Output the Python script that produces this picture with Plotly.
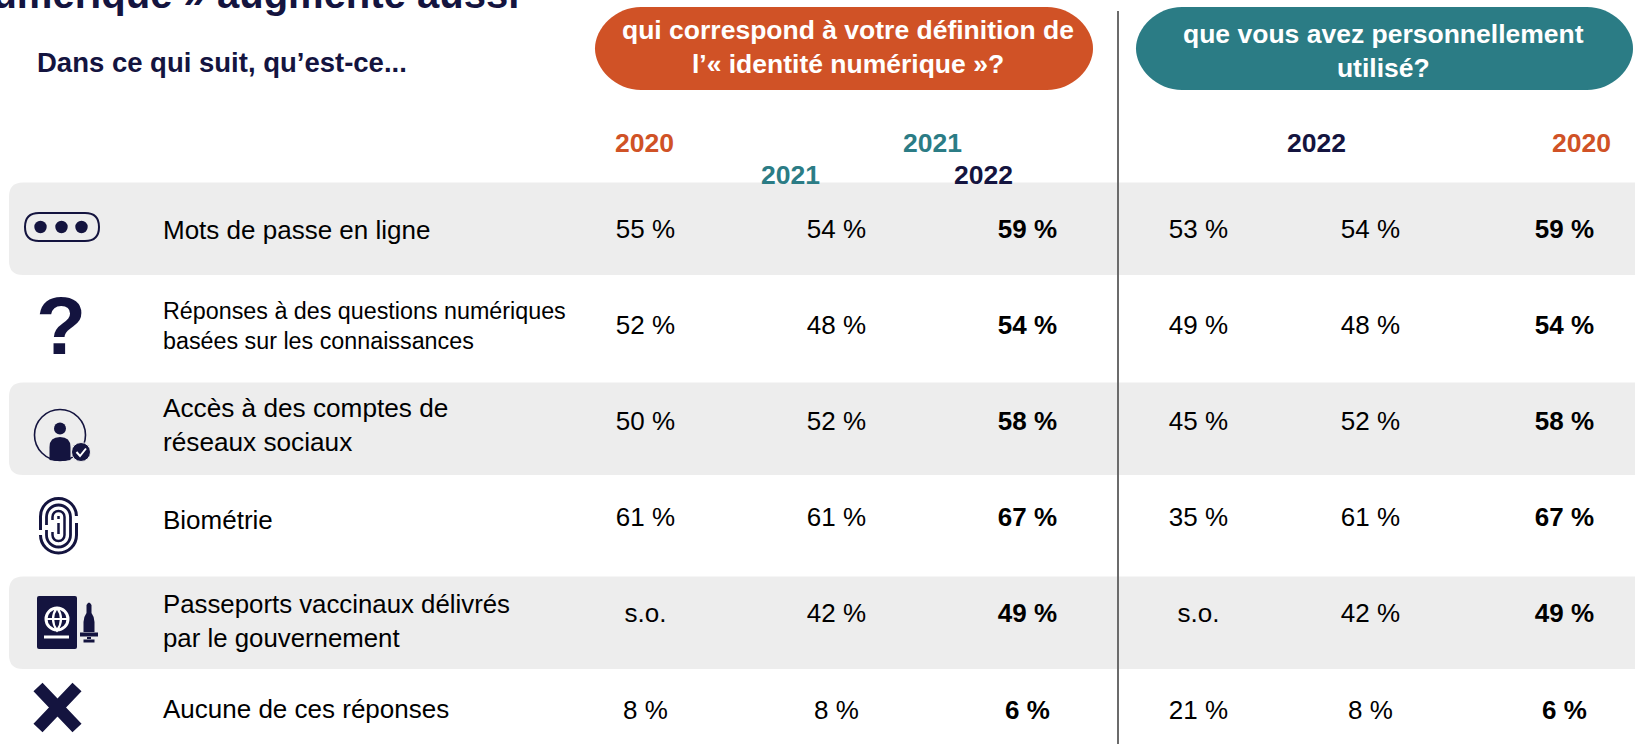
import plotly.graph_objects as go

# ---------- data ----------
row_labels = [
    "Mots de passe en ligne",
    "Réponses à des questions numériques<br>basées sur les connaissances",
    "Accès à des comptes de<br>réseaux sociaux",
    "Biométrie",
    "Passeports vaccinaux délivrés<br>par le gouvernement",
    "Aucune de ces réponses",
]
def_2020 = ["55 %", "52 %", "50 %", "61 %", "s.o.", "8 %"]
def_2021 = ["54 %", "48 %", "52 %", "61 %", "42 %", "8 %"]
def_2022 = ["59 %", "54 %", "58 %", "67 %", "49 %", "6 %"]
use_2020 = ["53 %", "49 %", "45 %", "35 %", "s.o.", "21 %"]
use_2021 = ["54 %", "48 %", "52 %", "61 %", "42 %", "8 %"]
use_2022 = ["59 %", "54 %", "58 %", "67 %", "49 %", "6 %"]
columns = [def_2020, def_2021, def_2022, use_2020, use_2021, use_2022]
title_text = "numérique » augmente aussi"
intro_text = "Dans ce qui suit, qu’est-ce..."
pill_left = "qui correspond à votre définition de<br>l’« identité numérique »?"
pill_right = "que vous avez personnellement<br>utilisé?"
year_labels = ["2020", "2021", "2021", "2022", "2022", "2020"]

# ---------- layout / style (pixels of the 1635x744 page) ----------
W, H = 1635, 744
ORANGE, TEAL, NAVY, BAND, RULE = "#D05226", "#2B7C85", "#14143F", "#EDEDED", "#6B6B6B"
FONT = "Liberation Sans"
col_x = [645.5, 836.5, 1027.5, 1198.5, 1370.5, 1564.5]
row_y = [231, 327, 423, 519, 615, 712]
label_y = [230, 326, 425, 520, 621, 709]
label_size = [26, 23.3, 26.2, 26, 25.8, 26]
year_x = [644, 790.5, 932, 983.5, 1316, 1581]
year_y = [143, 175, 143, 175, 143, 143]
year_col = [ORANGE, TEAL, TEAL, NAVY, NAVY, ORANGE]

def rrect(x0, y0, x1, y1, r, right=True):
    rr = r if right else 0
    return (f"M{x0+r},{y0} L{x1-rr},{y0} Q{x1},{y0} {x1},{y0+rr} L{x1},{y1-rr} Q{x1},{y1} {x1-rr},{y1} "
            f"L{x0+r},{y1} Q{x0},{y1} {x0},{y1-r} L{x0},{y0+r} Q{x0},{y0} {x0+r},{y0} Z")

def pill(x0, y0, x1, y1, r):
    m = 0.45 * r
    return (f"M{x0+r},{y0} L{x1-r},{y0} C{x1-m},{y0} {x1},{y0+m} {x1},{(y0+y1)/2} "
            f"C{x1},{y1-m} {x1-m},{y1} {x1-r},{y1} L{x0+r},{y1} "
            f"C{x0+m},{y1} {x0},{y1-m} {x0},{(y0+y1)/2} C{x0},{y0+m} {x0+m},{y0} {x0+r},{y0} Z")

shapes = []
def add_path(path, fill=None, line=None, width=0, layer="above"):
    shapes.append(dict(type="path", path=path, xref="x", yref="y", layer=layer,
                       fillcolor=fill if fill else "rgba(0,0,0,0)",
                       line=dict(color=line if line else "rgba(0,0,0,0)", width=width)))
def add_circle(cx, cy, r, fill=None, line=None, width=0):
    shapes.append(dict(type="circle", x0=cx-r, x1=cx+r, y0=cy-r, y1=cy+r, xref="x", yref="y", layer="above",
                       fillcolor=fill if fill else "rgba(0,0,0,0)",
                       line=dict(color=line if line else "rgba(0,0,0,0)", width=width)))

# bands
for y0, y1 in [(182.5, 275), (382.5, 475), (576.5, 669)]:
    add_path(rrect(9, y0, W + 20, y1, 14), fill=BAND, layer="below")
# pills and rule
add_path(pill(595, 7, 1093, 90, 46), fill=ORANGE, layer="below")
add_path(pill(1136, 7, 1633, 90, 46), fill=TEAL, layer="below")
shapes.append(dict(type="line", x0=1118, x1=1118, y0=11, y1=744, xref="x", yref="y",
                   layer="above", line=dict(color=RULE, width=2)))

# icon: password
add_path(rrect(25, 213, 99, 241, 14), line=NAVY, width=2)
for cx in (40.5, 61.5, 81.5):
    add_circle(cx, 227, 6.2, fill=NAVY)
# icon: person
add_circle(60, 435, 25.5, line=NAVY, width=1.6)
add_circle(60, 428.5, 6, fill=NAVY)
add_path("M49.5,460 L49.5,447 Q49.5,437 60,437 Q70.5,437 70.5,447 L70.5,460 Q60,462 49.5,460 Z", fill=NAVY)
add_circle(81, 452, 9.5, fill=NAVY, line=BAND, width=1)
add_path("M76.5,452 L80,456 L86,448.5", line="#FFFFFF", width=2)

# icon: fingerprint
def ring_path(cx, w, top, bot, ymid_start, ymid_end):
    """Open oval: starts on the left side, over the top, round the bottom, back up the left."""
    k = 0.56 * w
    return (f"M{cx-w},{ymid_start} L{cx-w},{top+w} C{cx-w},{top+w-k} {cx-k},{top} {cx},{top} "
            f"C{cx+k},{top} {cx+w},{top+w-k} {cx+w},{top+w} L{cx+w},{bot-w} "
            f"C{cx+w},{bot-w+k} {cx+k},{bot} {cx},{bot} C{cx-k},{bot} {cx-w},{bot-w+k} {cx-w},{bot-w} "
            f"L{cx-w},{ymid_end}")
FX = 58.5
add_path(ring_path(FX, 18, 498.5, 553, 530, 536), line=NAVY, width=3)
add_path(f"M{FX+18},516 L{FX+18},523", line="#FFFFFF", width=3.5)
add_path(ring_path(FX, 12, 505, 547, 525, 530), line=NAVY, width=2.8)
add_path(ring_path(FX, 6, 511, 541, 520, 532), line=NAVY, width=2.5)
add_path(f"M{FX},516 L{FX},519 M{FX},523 L{FX},534", line=NAVY, width=2.5)

# icon: passport + syringe
add_path(rrect(37, 596, 77, 649, 2), fill=NAVY)
add_circle(57, 619, 11, line="#FFFFFF", width=3)
add_path("M45.5,619 L68.5,619 M57,607.5 Q49,619 57,630.5 Q65,619 57,607.5", line="#FFFFFF", width=2.2)
add_path("M44,637 L69,637", line="#FFFFFF", width=3)
add_path("M86.5,605 Q89,600 91.5,605 L91.5,613 Q94.5,617 94.5,622 L94.5,632 L83.5,632 L83.5,622 Q83.5,617 86.5,613 Z", fill=NAVY)
add_path("M80,632.5 L98,632.5 L98,636.5 L80,636.5 Z M87,636 L91,636 L91,640 L87,640 Z M83.5,639.5 L94.5,639.5 L94.5,642.5 L83.5,642.5 Z", fill=NAVY)
# icon: cross
add_path("M38,687 L77,728 M77,687 L38,728", line=NAVY, width=12.5)

annotations = []
def note(x, y, text, size, color="#000000", bold=False, xanchor="center", yanchor="middle", align="center"):
    annotations.append(dict(x=x, y=y, xref="x", yref="y", text=f"<b>{text}</b>" if bold else text,
                            showarrow=False, xanchor=xanchor, yanchor=yanchor, align=align,
                            font=dict(family=FONT, size=size, color=color),
                            borderpad=0, borderwidth=0))

note(519, 16, title_text, 40, NAVY, True, xanchor="right", yanchor="bottom")
note(37, 62, intro_text, 27.5, NAVY, True, xanchor="left")
note(848, 47, pill_left, 26.5, "#FFFFFF", True)
note(1383, 51, pill_right, 26.5, "#FFFFFF", True)
for x, y, t, c in zip(year_x, year_y, year_labels, year_col):
    note(x, y, t, 26.5, c, True)
for t, y, s in zip(row_labels, label_y, label_size):
    note(163, y, t, s, "#000000", xanchor="left", align="left")
note(61, 325, "?", 82, NAVY, True)

fig = go.Figure()
for i, (x, col) in enumerate(zip(col_x, columns)):
    bold = i in (2, 5)
    fig.add_trace(go.Scatter(
        x=[x] * len(col), y=row_y, mode="text",
        text=[f"<b>{v}</b>" if bold else v for v in col],
        textposition="middle center", hoverinfo="skip", showlegend=False,
        textfont=dict(family=FONT, size=26, color="#000000"),
    ))

fig.update_layout(
    width=W, height=H, margin=dict(l=0, r=0, t=0, b=0),
    paper_bgcolor="#FFFFFF", plot_bgcolor="#FFFFFF", showlegend=False,
    xaxis=dict(range=[0, W], visible=False, fixedrange=True),
    yaxis=dict(range=[H, 0], visible=False, fixedrange=True),
    shapes=shapes, annotations=annotations,
)
fig.write_html("out.html", config={"displayModeBar": False}, default_width=W, default_height=H)
page = open("out.html", encoding="utf-8").read()
page = page.replace("<head>", "<head><style>html,body{margin:0;padding:0;overflow:hidden}</style>", 1)
open("out.html", "w", encoding="utf-8").write(page)
